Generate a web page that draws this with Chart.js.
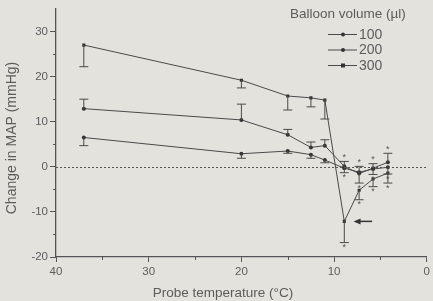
<!DOCTYPE html>
<html>
<head>
<meta charset="utf-8">
<script src="https://cdn.jsdelivr.net/npm/chart.js@4.4.1/dist/chart.umd.min.js"></script>
<style>
  html, body { margin: 0; padding: 0; background: #e4e2dc; }
  #wrap { width: 433px; height: 301px; }
</style>
</head>
<body>
<div id="wrap"><canvas id="mapChart" width="433" height="301"></canvas></div>
<script>
// probe temperatures (°C) and change in MAP (mmHg) per balloon volume
const temps = [37, 20, 15, 12.5, 11, 8.9, 7.3, 5.8, 4.2];
const vol100 = [6.5, 2.9, 3.5, 2.7, 1.5, -0.3, -1.2, -0.5, -0.1];
const vol200 = [12.9, 10.4, 7.1, 4.3, 4.7, 0.1, -1.5, -0.3, 1.0];
const vol300 = [27.0, 19.2, 15.7, 15.3, 14.8, -12.1, -5.2, -2.7, -1.4];

// one-sided SEM bars
const errUp200 = [2.1, 3.5, 1.2, 1.2, 1.3, 1.1, 1.6, 1.0, 2.0];
const errDown100 = [1.8, 1.0, 0.5, 0.8, 0.6, 1.0, 2.4, 1.2, 1.5];
const errDown300 = [4.8, 1.7, 3.1, 2.0, 4.2, 4.7, 2.1, 1.7, 2.2];
const starred = [false, false, false, false, false, true, true, true, true];

const seriesNames = ['100', '200', '300'];
const legendTitle = 'Balloon volume (\u00b5l)';
const xTitle = 'Probe temperature (\u00b0C)';
const yTitle = 'Change in MAP (mmHg)';
const xMinorTicks = [35, 25, 15, 5];
const yMinorTicks = [-15, -5, 5, 15, 25];
const arrowFrom = { x: 5.9, y: -12.1 };
const arrowTo = { x: 7.9, y: -12.1 };

const ink = '#4a4a4a';
const textCol = '#5c5c5c';
const fontName = '"Liberation Sans", Arial, sans-serif';

const toPoints = (vals) => temps.map((t, i) => ({ x: t, y: vals[i] }));

const lineSet = (label, vals, style) => ({
  label: label,
  data: toPoints(vals),
  borderColor: ink,
  borderWidth: 1,
  pointStyle: style,
  pointRadius: style === 'rect' ? 2.2 : 2,
  pointBackgroundColor: '#333',
  pointBorderColor: '#333',
  pointBorderWidth: 0,
  tension: 0
});

const extras = {
  id: 'extras',
  beforeDraw(chart) {
    const c = chart.ctx;
    c.save();
    c.fillStyle = '#e4e2dc';
    c.fillRect(0, 0, chart.width, chart.height);
    c.restore();
  },
  afterDatasetsDraw(chart) {
    const c = chart.ctx;
    const { x, y } = chart.scales;
    const area = chart.chartArea;
    c.save();

    // dotted zero line
    c.strokeStyle = '#555';
    c.lineWidth = 1;
    c.setLineDash([2, 2]);
    const y0 = Math.round(y.getPixelForValue(0)) + 0.5;
    c.beginPath();
    c.moveTo(area.left, y0);
    c.lineTo(area.right, y0);
    c.stroke();
    c.setLineDash([]);

    // error bars
    c.strokeStyle = ink;
    c.fillStyle = '#555';
    c.font = '9px ' + fontName;
    c.textAlign = 'center';
    const bar = (vals, errs, dir) => {
      temps.forEach((t, i) => {
        const px = x.getPixelForValue(t);
        const p0 = y.getPixelForValue(vals[i]);
        const p1 = y.getPixelForValue(vals[i] + dir * errs[i]);
        c.beginPath();
        c.moveTo(px, p0);
        c.lineTo(px, p1);
        c.moveTo(px - 4.5, p1);
        c.lineTo(px + 4.5, p1);
        c.stroke();
        if (starred[i]) {
          c.textBaseline = 'middle';
          c.fillText('*', px, p1 + (dir > 0 ? -4 : 5));
        }
      });
    };
    bar(vol200, errUp200, 1);
    bar(vol100, errDown100, -1);
    bar(vol300, errDown300, -1);

    // arrow
    const ax1 = x.getPixelForValue(arrowFrom.x);
    const ax2 = x.getPixelForValue(arrowTo.x);
    const ay = y.getPixelForValue(arrowFrom.y);
    c.strokeStyle = '#333';
    c.fillStyle = '#333';
    c.lineWidth = 1.5;
    c.beginPath();
    c.moveTo(ax1, ay);
    c.lineTo(ax2 + 5, ay);
    c.stroke();
    c.beginPath();
    c.moveTo(ax2, ay);
    c.lineTo(ax2 + 7, ay - 3);
    c.lineTo(ax2 + 7, ay + 3);
    c.closePath();
    c.fill();

    // minor ticks
    c.strokeStyle = '#555';
    c.lineWidth = 1;
    c.beginPath();
    xMinorTicks.forEach((v) => {
      const px = Math.round(x.getPixelForValue(v)) + 0.5;
      c.moveTo(px, area.bottom);
      c.lineTo(px, area.bottom + 3);
    });
    yMinorTicks.forEach((v) => {
      const py = Math.round(y.getPixelForValue(v)) + 0.5;
      c.moveTo(area.left, py);
      c.lineTo(area.left - 3, py);
    });
    c.stroke();

    // axis titles
    c.fillStyle = textCol;
    c.font = '13.5px ' + fontName;
    c.textAlign = 'center';
    c.textBaseline = 'middle';
    c.fillText(xTitle, 223, 293);
    c.save();
    c.translate(12, 138);
    c.rotate(-Math.PI / 2);
    c.font = '14px ' + fontName;
    c.fillText(yTitle, 0, 0);
    c.restore();

    // legend
    c.textAlign = 'left';
    c.textBaseline = 'middle';
    c.fillText(legendTitle, 290, 14);
    c.font = '14px ' + fontName;
    chart.data.datasets.forEach((ds, i) => {
      const ly = 34.5 + i * 15.5;
      c.strokeStyle = ink;
      c.beginPath();
      c.moveTo(328, ly);
      c.lineTo(357, ly);
      c.stroke();
      c.fillStyle = '#333';
      if (ds.pointStyle === 'rect') {
        c.fillRect(341, ly - 2, 4, 4);
      } else {
        c.beginPath();
        c.arc(343, ly, 2, 0, Math.PI * 2);
        c.fill();
      }
      c.fillStyle = textCol;
      c.fillText(ds.label, 359, ly + 0.5);
    });

    c.restore();
  }
};

new Chart(document.getElementById('mapChart'), {
  type: 'line',
  data: {
    datasets: [
      lineSet(seriesNames[0], vol100, 'circle'),
      lineSet(seriesNames[1], vol200, 'circle'),
      lineSet(seriesNames[2], vol300, 'rect')
    ]
  },
  options: {
    responsive: false,
    devicePixelRatio: 1,
    animation: false,
    layout: { padding: { left: 0, right: 5, top: 9, bottom: 0 } },
    plugins: { legend: { display: false }, tooltip: { enabled: false } },
    scales: {
      x: {
        type: 'linear',
        reverse: true,
        min: 0,
        max: 40,
        afterFit: (s) => { s.height = 44; },
        grid: { drawOnChartArea: false, tickLength: 5, color: '#555' },
        border: { color: '#555', width: 1.3 },
        ticks: { stepSize: 10, padding: 3, color: textCol, font: { family: fontName, size: 11.5 } }
      },
      y: {
        min: -20,
        max: 35,
        afterFit: (s) => { s.width = 56; },
        grid: { drawOnChartArea: false, tickLength: 6, color: '#555' },
        border: { color: '#555', width: 1.3 },
        ticks: { stepSize: 10, includeBounds: false, padding: 2, color: textCol, font: { family: fontName, size: 11.5 } }
      }
    }
  },
  plugins: [extras]
});
</script>
</body>
</html>
